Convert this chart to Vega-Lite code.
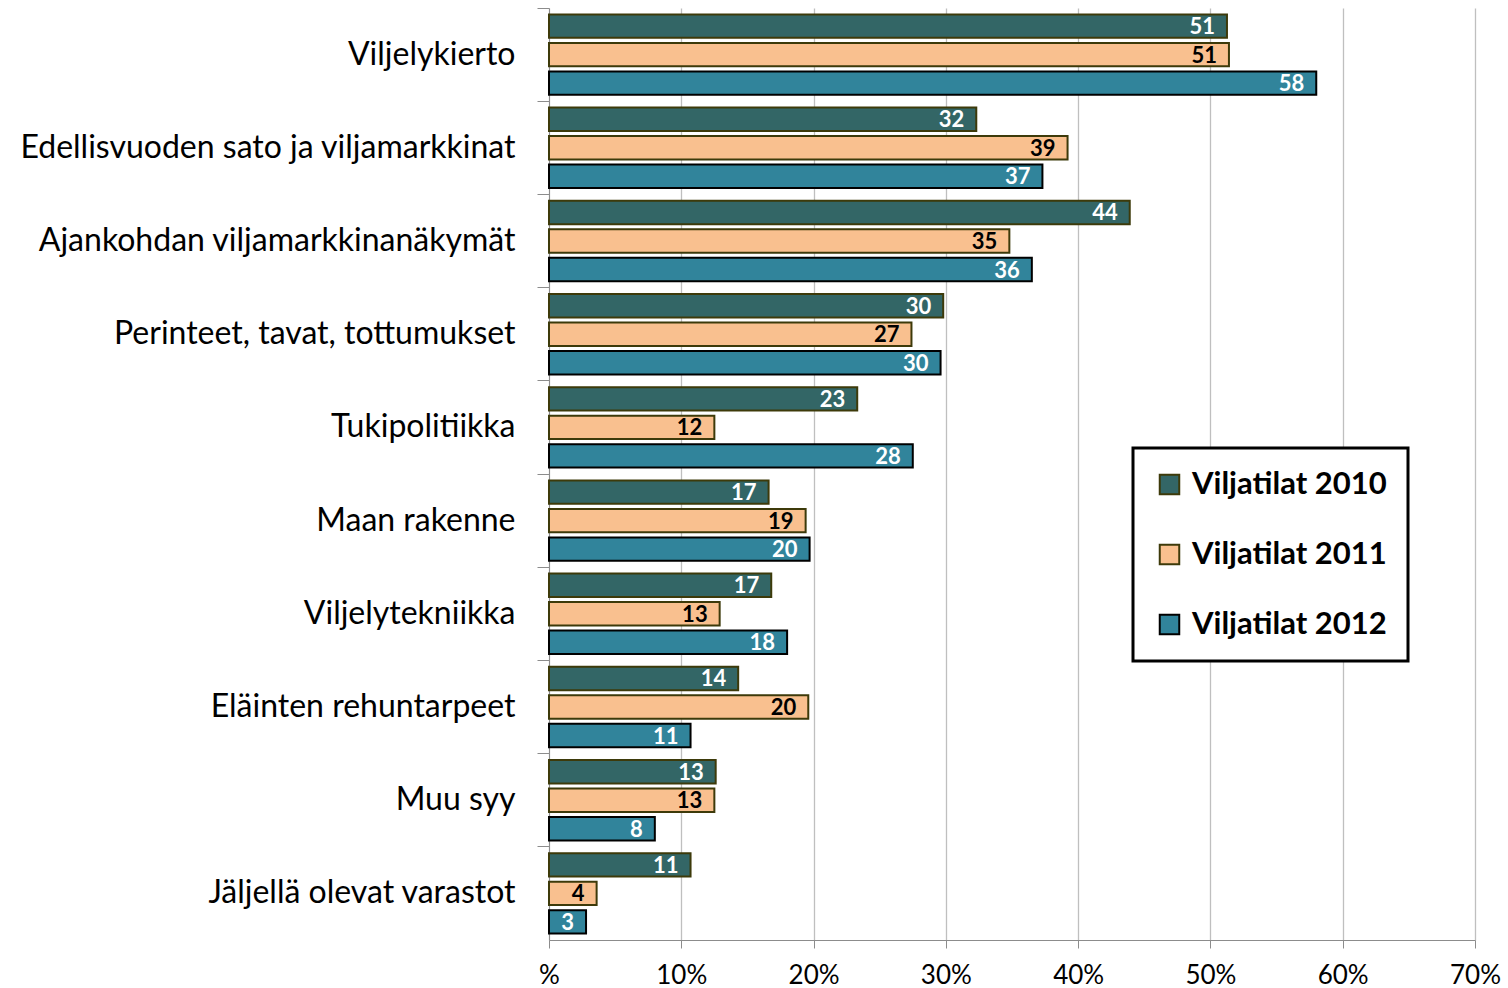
{
  "$schema": "https://vega.github.io/schema/vega-lite/v6.json",
  "autosize": "none",
  "padding": {"left": 549, "top": 8, "right": 33, "bottom": 48},
  "width": 926,
  "height": 932,
  "background": "white",
  "config": {
    "font": "Lato",
    "view": {"stroke": null}
  },
  "data": {
    "values": [
      {"cat": "Viljelykierto", "series": "Viljatilat 2010", "value": 51.25, "label": "51"},
      {"cat": "Viljelykierto", "series": "Viljatilat 2011", "value": 51.4, "label": "51"},
      {"cat": "Viljelykierto", "series": "Viljatilat 2012", "value": 58.0, "label": "58"},
      {"cat": "Edellisvuoden sato ja viljamarkkinat", "series": "Viljatilat 2010", "value": 32.3, "label": "32"},
      {"cat": "Edellisvuoden sato ja viljamarkkinat", "series": "Viljatilat 2011", "value": 39.2, "label": "39"},
      {"cat": "Edellisvuoden sato ja viljamarkkinat", "series": "Viljatilat 2012", "value": 37.3, "label": "37"},
      {"cat": "Ajankohdan viljamarkkinanäkymät", "series": "Viljatilat 2010", "value": 43.9, "label": "44"},
      {"cat": "Ajankohdan viljamarkkinanäkymät", "series": "Viljatilat 2011", "value": 34.8, "label": "35"},
      {"cat": "Ajankohdan viljamarkkinanäkymät", "series": "Viljatilat 2012", "value": 36.5, "label": "36"},
      {"cat": "Perinteet, tavat, tottumukset", "series": "Viljatilat 2010", "value": 29.8, "label": "30"},
      {"cat": "Perinteet, tavat, tottumukset", "series": "Viljatilat 2011", "value": 27.4, "label": "27"},
      {"cat": "Perinteet, tavat, tottumukset", "series": "Viljatilat 2012", "value": 29.6, "label": "30"},
      {"cat": "Tukipolitiikka", "series": "Viljatilat 2010", "value": 23.3, "label": "23"},
      {"cat": "Tukipolitiikka", "series": "Viljatilat 2011", "value": 12.5, "label": "12"},
      {"cat": "Tukipolitiikka", "series": "Viljatilat 2012", "value": 27.5, "label": "28"},
      {"cat": "Maan rakenne", "series": "Viljatilat 2010", "value": 16.6, "label": "17"},
      {"cat": "Maan rakenne", "series": "Viljatilat 2011", "value": 19.4, "label": "19"},
      {"cat": "Maan rakenne", "series": "Viljatilat 2012", "value": 19.7, "label": "20"},
      {"cat": "Viljelytekniikka", "series": "Viljatilat 2010", "value": 16.8, "label": "17"},
      {"cat": "Viljelytekniikka", "series": "Viljatilat 2011", "value": 12.9, "label": "13"},
      {"cat": "Viljelytekniikka", "series": "Viljatilat 2012", "value": 18.0, "label": "18"},
      {"cat": "Eläinten rehuntarpeet", "series": "Viljatilat 2010", "value": 14.3, "label": "14"},
      {"cat": "Eläinten rehuntarpeet", "series": "Viljatilat 2011", "value": 19.6, "label": "20"},
      {"cat": "Eläinten rehuntarpeet", "series": "Viljatilat 2012", "value": 10.7, "label": "11"},
      {"cat": "Muu syy", "series": "Viljatilat 2010", "value": 12.6, "label": "13"},
      {"cat": "Muu syy", "series": "Viljatilat 2011", "value": 12.5, "label": "13"},
      {"cat": "Muu syy", "series": "Viljatilat 2012", "value": 8.0, "label": "8"},
      {"cat": "Jäljellä olevat varastot", "series": "Viljatilat 2010", "value": 10.7, "label": "11"},
      {"cat": "Jäljellä olevat varastot", "series": "Viljatilat 2011", "value": 3.6, "label": "4"},
      {"cat": "Jäljellä olevat varastot", "series": "Viljatilat 2012", "value": 2.8, "label": "3"}
    ]
  },
  "encoding": {
    "y": {
      "field": "cat", "type": "nominal", "sort": null,
      "scale": {"paddingInner": 0, "paddingOuter": 0},
      "axis": {
        "title": null, "bandPosition": 0, "domainColor": "#8c8c8c", "tickColor": "#8c8c8c",
        "tickSize": 12, "labelFontSize": 32, "labelColor": "black", "labelPadding": 22,
        "labelFont": "Lato", "labelLimit": 600, "grid": false
      }
    },
    "yOffset": {
      "field": "series", "type": "nominal",
      "scale": {"paddingInner": 0.18, "paddingOuter": 0.225}
    },
    "x": {
      "field": "value", "type": "quantitative",
      "scale": {"domain": [0, 70], "nice": false},
      "axis": {
        "title": null, "values": [0, 10, 20, 30, 40, 50, 60, 70],
        "labelExpr": "datum.value == 0 ? '%' : datum.value + '%'",
        "labelFontSize": 26, "labelColor": "black", "labelPadding": 14, "labelFlush": false,
        "domainColor": "#8c8c8c", "tickColor": "#8c8c8c", "tickSize": 8,
        "grid": true, "gridColor": "#bfbfbf", "gridWidth": 1.3
      }
    }
  },
  "layer": [
    {
      "mark": {"type": "bar", "strokeWidth": 2},
      "encoding": {
        "color": {
          "field": "series", "type": "nominal",
          "scale": {"domain": ["Viljatilat 2010", "Viljatilat 2011", "Viljatilat 2012"], "range": ["#336666", "#F9C08F", "#31849B"]},
          "legend": {
            "title": null, "orient": "none", "legendX": 584, "legendY": 440,
            "symbolType": "square", "symbolSize": 380, "symbolStrokeWidth": 2,
            "labelFontSize": 31, "labelFontWeight": "bold", "labelColor": "black", "labelFont": "Lato",
            "labelLimit": 400,
            "rowPadding": 38, "padding": 21, "strokeColor": "black",
            "fillColor": "white", "labelOffset": 7,
            "encode": {"legend": {"update": {"strokeWidth": {"value": 3}}}}
          }
        },
        "stroke": {
          "field": "series", "type": "nominal",
          "scale": {"domain": ["Viljatilat 2010", "Viljatilat 2011", "Viljatilat 2012"], "range": ["#3d3a0a", "#3d3a0a", "#000000"]},
          "legend": {
            "title": null, "orient": "none", "legendX": 584, "legendY": 440,
            "symbolType": "square", "symbolSize": 380, "symbolStrokeWidth": 2,
            "labelFontSize": 31, "labelFontWeight": "bold", "labelColor": "black", "labelFont": "Lato",
            "labelLimit": 400,
            "rowPadding": 38, "padding": 21, "strokeColor": "black",
            "fillColor": "white", "labelOffset": 7,
            "encode": {"legend": {"update": {"strokeWidth": {"value": 3}}}}
          }
        }
      }
    },
    {
      "mark": {"type": "text", "align": "right", "baseline": "middle", "dx": -12, "dy": 1, "fontSize": 22, "fontWeight": "bold", "font": "Lato"},
      "encoding": {
        "text": {"field": "label"},
        "color": {
          "condition": {"test": "datum.series == 'Viljatilat 2011'", "value": "black"},
          "value": "white"
        }
      }
    }
  ]
}
